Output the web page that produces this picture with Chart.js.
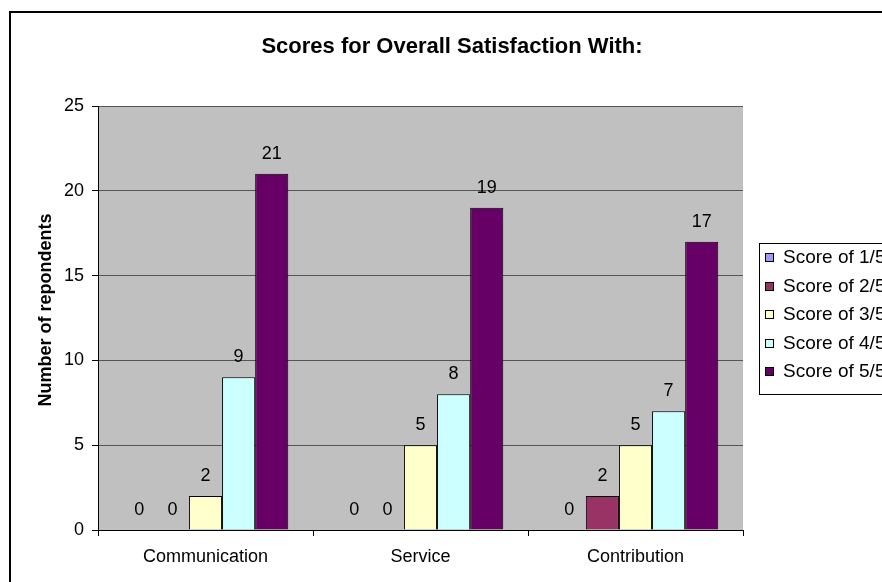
<!DOCTYPE html>
<html lang="en">
<head>
    <meta charset="UTF-8">
    <title>Scores for Overall Satisfaction With:</title>
    <style>
        body {
            margin: 0;
            padding: 0;
            background-color: #ffffff;
        }
        #wrap {
            width: 882px;
            height: 582px;
        }
    </style>
    <script src="https://cdn.jsdelivr.net/npm/chart.js"></script>
</head>
<body>

<div id="wrap">
    <canvas id="myChart" width="882" height="582"></canvas>
</div>

<script>
    // Data
    const categories = ['Communication', 'Service', 'Contribution'];
    const seriesNames = ['Score of 1/5', 'Score of 2/5', 'Score of 3/5', 'Score of 4/5', 'Score of 5/5'];
    const score1 = [0, 0, 0];
    const score2 = [0, 0, 2];
    const score3 = [2, 5, 5];
    const score4 = [9, 8, 7];
    const score5 = [21, 19, 17];
    const yTicks = [0, 5, 10, 15, 20, 25];
    const chartTitle = 'Scores for Overall Satisfaction With:';
    const yTitle = 'Number of repondents';

    const seriesValues = [score1, score2, score3, score4, score5];
    const seriesColors = ['#9999ff', '#993366', '#ffffcc', '#ccffff', '#660066'];
    const FONT = "'Liberation Sans', Arial, sans-serif";

    // grey plot background, outer frame and the two titles
    const backdrop = {
        id: 'backdrop',
        beforeDraw(chart) {
            const c = chart.ctx, a = chart.chartArea;
            c.save();
            c.fillStyle = '#c0c0c0';
            c.fillRect(a.left, a.top, a.right - a.left, a.bottom - a.top);
            c.strokeStyle = '#000';
            c.lineWidth = 2;
            c.strokeRect(10, 12, 1000, 1000);

            // the frame runs past the right edge, so the title is centred on it
            c.fillStyle = '#000';
            c.textAlign = 'center';
            c.textBaseline = 'middle';
            c.font = 'bold 22px ' + FONT;
            c.fillText(chartTitle, 452, 47);

            c.translate(46, 310);
            c.rotate(-Math.PI / 2);
            c.font = 'bold 18px ' + FONT;
            c.fillText(yTitle, 0, 0);
            c.restore();
        }
    };

    // value labels above every bar (zeros too)
    const valueLabels = {
        id: 'valueLabels',
        afterDatasetsDraw(chart) {
            const c = chart.ctx;
            c.save();
            c.font = '18px ' + FONT;
            c.fillStyle = '#000';
            c.textAlign = 'center';
            c.textBaseline = 'middle';
            chart.data.datasets.forEach((ds, i) => {
                chart.getDatasetMeta(i).data.forEach((bar, j) => {
                    c.fillText(String(ds.data[j]), bar.x, bar.y - 20);
                });
            });
            c.restore();
        }
    };

    // boxed legend on the right, clipped by the canvas edge like the original
    const boxLegend = {
        id: 'boxLegend',
        afterDraw(chart) {
            const c = chart.ctx;
            c.save();
            c.fillStyle = '#fff';
            c.fillRect(759, 243, 200, 151);
            c.strokeStyle = '#000';
            c.lineWidth = 1;
            c.strokeRect(759.5, 243.5, 200, 151);
            c.font = '19px ' + FONT;
            c.textBaseline = 'middle';
            chart.data.datasets.forEach((ds, i) => {
                const y = 258 + i * 28.5;
                c.fillStyle = ds.backgroundColor;
                c.fillRect(765, Math.round(y) - 4, 8, 8);
                c.strokeStyle = '#000';
                c.strokeRect(765.5, Math.round(y) - 4.5, 8, 8);
                c.fillStyle = '#000';
                c.fillText(ds.label, 783, y);
            });
            c.restore();
        }
    };

    const ctx = document.getElementById('myChart').getContext('2d');
    const chart = new Chart(ctx, {
        type: 'bar',
        data: {
            labels: categories,
            datasets: seriesNames.map((name, i) => ({
                label: name,
                data: seriesValues[i],
                backgroundColor: seriesColors[i],
                borderColor: '#000',
                borderWidth: c => (c.raw === 0 ? 0 : 1),
                categoryPercentage: 0.77,
                barPercentage: 1
            }))
        },
        options: {
            responsive: false,
            animation: false,
            layout: {
                padding: { left: 0, top: 106, right: 139, bottom: 0 }
            },
            plugins: {
                legend: { display: false },
                tooltip: { enabled: false },
                title: { display: false }
            },
            scales: {
                x: {
                    grid: {
                        offset: true,
                        drawOnChartArea: false,
                        tickLength: 6,
                        tickColor: '#000'
                    },
                    border: { color: '#000', width: 1 },
                    ticks: {
                        color: '#000',
                        font: { family: FONT, size: 18 },
                        padding: 10,
                        maxRotation: 0
                    },
                    afterFit(scale) { scale.height = 52; }
                },
                y: {
                    min: 0,
                    max: 25,
                    afterBuildTicks(scale) {
                        scale.ticks = yTicks.map(v => ({ value: v }));
                    },
                    grid: {
                        color: '#555',
                        tickLength: 6,
                        tickColor: '#000'
                    },
                    border: { color: '#000', width: 1 },
                    ticks: {
                        color: '#000',
                        font: { family: FONT, size: 18 },
                        padding: 8
                    },
                    afterFit(scale) { scale.width = 98; }
                }
            }
        },
        plugins: [backdrop, valueLabels, boxLegend]
    });
</script>

</body>
</html>
